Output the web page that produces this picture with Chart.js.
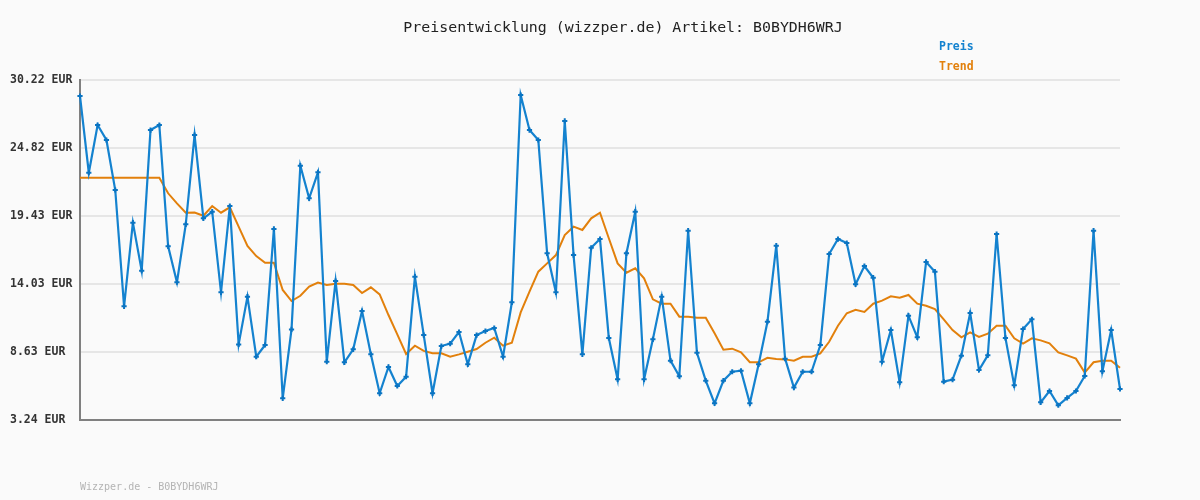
<!DOCTYPE html>
<html>
<head>
<meta charset="utf-8">
<script src="https://cdn.jsdelivr.net/npm/chart.js@4"></script>
<style>
  html, body { margin: 0; padding: 0; background: #fafafa; }
  #wrap { width: 1200px; height: 500px; }
</style>
</head>
<body>
<div id="wrap"><canvas id="chart" width="1200" height="500"></canvas></div>
<script>
// Preise (EUR)
const preis = [
  28.95, 22.86, 26.65, 25.46, 21.49, 12.26, 18.90, 15.09, 26.25, 26.65,
  17.02, 14.17, 18.77, 25.85, 19.24, 19.77, 13.37, 20.22, 9.24, 13.03,
  8.26, 9.19, 18.40, 4.96, 10.43, 23.42, 20.83, 22.89, 7.87, 14.27,
  7.82, 8.85, 11.89, 8.45, 5.36, 7.45, 5.94, 6.68, 14.61, 9.98,
  5.36, 9.11, 9.30, 10.22, 7.66, 9.98, 10.30, 10.54, 8.26, 12.58,
  29.03, 26.25, 25.46, 16.47, 13.37, 26.97, 16.33, 8.45, 16.91, 17.60,
  9.75, 6.47, 16.47, 19.77, 6.47, 9.64, 13.03, 7.95, 6.71, 18.26,
  8.58, 6.36, 4.56, 6.36, 7.07, 7.15, 4.56, 7.66, 11.04, 17.07,
  8.11, 5.81, 7.07, 7.07, 9.19, 16.41, 17.60, 17.28, 14.01, 15.46,
  14.53, 7.87, 10.38, 6.23, 11.52, 9.80, 15.78, 15.01, 6.28, 6.44,
  8.34, 11.73, 7.21, 8.37, 18.00, 9.75, 5.99, 10.46, 11.23, 4.64,
  5.54, 4.41, 4.99, 5.54, 6.73, 18.26, 7.10, 10.38, 5.70
]

const trend = [
  22.47, 22.47, 22.47, 22.47, 22.47, 22.47, 22.47, 22.47, 22.47, 22.47,
  21.23, 20.43, 19.69, 19.71, 19.45, 20.22, 19.69, 20.12, 18.58, 17.05,
  16.25, 15.72, 15.72, 13.56, 12.68, 13.10, 13.82, 14.14, 13.95, 14.06,
  14.06, 13.95, 13.32, 13.77, 13.21, 11.57, 10.04, 8.48, 9.14, 8.72,
  8.53, 8.53, 8.26, 8.45, 8.66, 8.87, 9.37, 9.77, 9.14, 9.37,
  11.78, 13.42, 15.01, 15.67, 16.33, 17.92, 18.58, 18.32, 19.24, 19.69,
  17.66, 15.67, 14.93, 15.28, 14.48, 12.82, 12.47, 12.47, 11.44, 11.44,
  11.36, 11.36, 10.12, 8.82, 8.90, 8.61, 7.82, 7.82, 8.18, 8.08,
  8.05, 7.95, 8.26, 8.26, 8.53, 9.45, 10.72, 11.71, 11.99, 11.81,
  12.47, 12.71, 13.05, 12.95, 13.16, 12.47, 12.31, 12.05, 11.23, 10.38,
  9.80, 10.20, 9.83, 10.09, 10.72, 10.72, 9.72, 9.30, 9.72, 9.56,
  9.32, 8.61, 8.37, 8.11, 7.00, 7.82, 7.95, 7.95, 7.39
]

const yTicks = [3.24, 8.63, 14.03, 19.43, 24.82, 30.22]

const titel = 'Preisentwicklung (wizzper.de) Artikel: B0BYDH6WRJ'
const fusszeile = 'Wizzper.de - B0BYDH6WRJ'

const blau = '#1482cf'
const orange = '#e2800c'
const mono = '"DejaVu Sans Mono", "Liberation Mono", monospace'

// Titel, Legende und Fusszeile direkt auf den Canvas schreiben
const textPlugin = {
  id: 'texte',
  afterDraw(chart) {
    const c = chart.ctx
    c.save()
    c.textBaseline = 'middle'
    c.font = '14.9px ' + mono
    c.fillStyle = '#222'
    c.textAlign = 'center'
    c.fillText(titel, 623, 28)

    c.textAlign = 'left'
    c.font = 'bold 11.5px ' + mono
    chart.data.datasets.forEach((ds, i) => {
      c.fillStyle = ds.borderColor
      c.fillText(ds.label, 939, 47 + i * 20)
    })

    c.font = '10px ' + mono
    c.fillStyle = '#b4b4b4'
    c.fillText(fusszeile, 80, 487)
    c.restore()
  }
}

new Chart(document.getElementById('chart'), {
  type: 'line',
  data: {
    labels: preis.map((_, i) => i + 1),
    datasets: [
      {
        label: 'Preis',
        data: preis,
        borderColor: blau,
        backgroundColor: blau,
        borderWidth: 2.2,
        pointStyle: 'cross',
        pointRadius: 2.6,
        pointBorderWidth: 2,
        pointBorderColor: '#0a74c2',
        tension: 0
      },
      {
        label: 'Trend',
        data: trend,
        borderColor: orange,
        backgroundColor: orange,
        borderWidth: 2,
        pointRadius: 0,
        tension: 0
      }
    ]
  },
  options: {
    responsive: false,
    animation: false,
    layout: { padding: { left: 10, right: 80, top: 80, bottom: 80 } },
    plugins: {
      legend: { display: false },
      title: { display: false },
      tooltip: { enabled: false }
    },
    scales: {
      x: {
        offset: false,
        ticks: { display: false },
        grid: { display: false },
        border: { display: true, color: '#808080', width: 2 },
        afterFit(scale) { scale.height = 0 }
      },
      y: {
        min: 3.24,
        max: 30.22,
        afterBuildTicks(scale) {
          scale.ticks = yTicks.map(v => ({ value: v }))
        },
        afterFit(scale) { scale.width = 70 },
        ticks: {
          crossAlign: 'far',
          color: '#333',
          font: { family: mono, size: 11.5, weight: 'bold' },
          callback: v => Number(v).toFixed(2) + ' EUR'
        },
        grid: { color: '#e6e6e6', lineWidth: 2, drawTicks: false },
        border: { color: '#808080', width: 2 }
      }
    }
  },
  plugins: [textPlugin]
})
</script>
</body>
</html>
